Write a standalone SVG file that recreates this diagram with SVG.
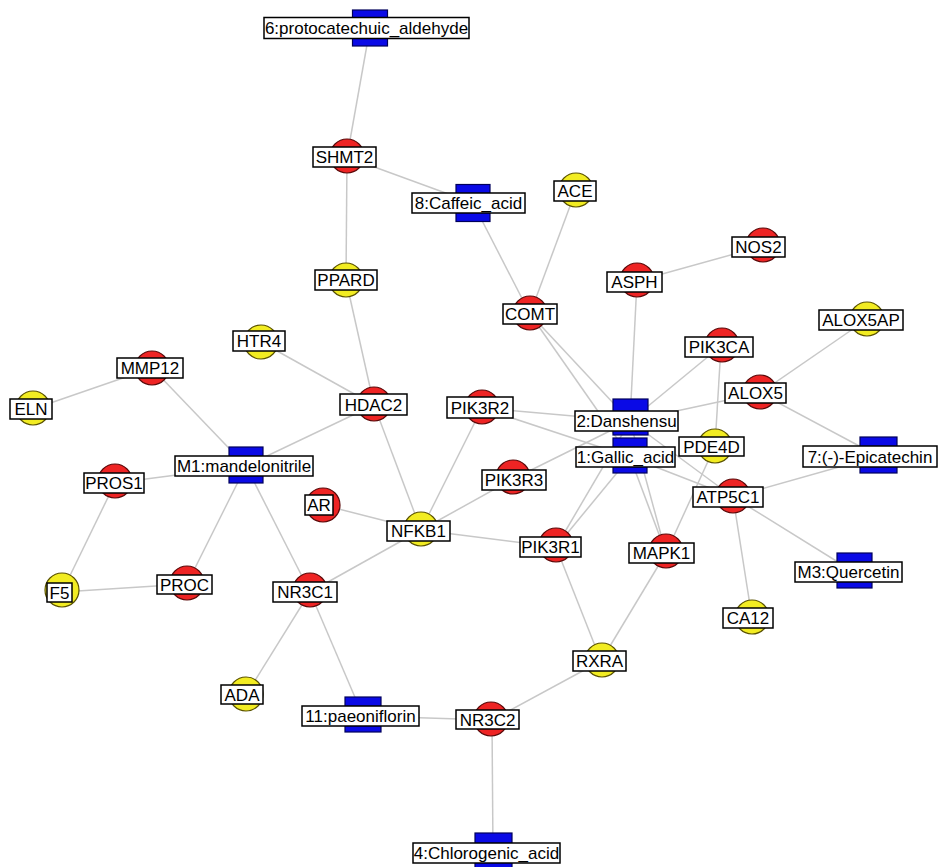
<svg xmlns="http://www.w3.org/2000/svg" width="945" height="867" viewBox="0 0 945 867">
  <style>
    .edge { stroke: #c8c8c8; stroke-width: 1.5; fill: none; }
    .red { fill: #ee2424; stroke: #5a0a0a; stroke-width: 1.2; }
    .yel { fill: #f2ec22; stroke: #5a5200; stroke-width: 1.2; }
    .cmp { fill: #0a0ae6; stroke: #00005a; stroke-width: 1.2; }
    .box { fill: #ffffff; stroke: #000000; stroke-width: 1.5; }
    .lbl { font-family: "Liberation Sans", Arial, sans-serif; font-size: 17px; fill: #000000; text-anchor: middle; }
  </style>
  <rect width="945" height="867" fill="#ffffff"/>

  <!-- connectors -->
  <g id="edges">
    <line class="edge" x1="370" y1="28" x2="347" y2="157"/>
    <line class="edge" x1="347" y1="157" x2="473" y2="203"/>
    <line class="edge" x1="347" y1="157" x2="346" y2="280"/>
    <line class="edge" x1="346" y1="280" x2="374" y2="405"/>
    <line class="edge" x1="473" y1="203" x2="530" y2="314"/>
    <line class="edge" x1="576" y1="190" x2="530" y2="314"/>
    <line class="edge" x1="530" y1="314" x2="630" y2="421"/>
    <line class="edge" x1="530" y1="314" x2="630" y2="457"/>
    <line class="edge" x1="637" y1="281" x2="763" y2="246"/>
    <line class="edge" x1="637" y1="281" x2="630" y2="421"/>
    <line class="edge" x1="721" y1="346" x2="630" y2="421"/>
    <line class="edge" x1="721" y1="346" x2="715" y2="446"/>
    <line class="edge" x1="760" y1="393" x2="866" y2="320"/>
    <line class="edge" x1="760" y1="393" x2="630" y2="421"/>
    <line class="edge" x1="760" y1="393" x2="878" y2="456"/>
    <line class="edge" x1="878" y1="456" x2="733" y2="497"/>
    <line class="edge" x1="733" y1="497" x2="630" y2="421"/>
    <line class="edge" x1="733" y1="497" x2="630" y2="457"/>
    <line class="edge" x1="733" y1="497" x2="854" y2="572"/>
    <line class="edge" x1="733" y1="497" x2="752" y2="618"/>
    <line class="edge" x1="715" y1="446" x2="666" y2="553"/>
    <line class="edge" x1="666" y1="553" x2="630" y2="421"/>
    <line class="edge" x1="666" y1="553" x2="630" y2="457"/>
    <line class="edge" x1="666" y1="553" x2="601" y2="661"/>
    <line class="edge" x1="556" y1="547" x2="630" y2="421"/>
    <line class="edge" x1="556" y1="547" x2="630" y2="457"/>
    <line class="edge" x1="556" y1="547" x2="601" y2="661"/>
    <line class="edge" x1="556" y1="547" x2="421" y2="530"/>
    <line class="edge" x1="482" y1="408" x2="630" y2="421"/>
    <line class="edge" x1="482" y1="408" x2="630" y2="457"/>
    <line class="edge" x1="482" y1="408" x2="421" y2="530"/>
    <line class="edge" x1="513" y1="479" x2="630" y2="421"/>
    <line class="edge" x1="513" y1="479" x2="421" y2="530"/>
    <line class="edge" x1="374" y1="405" x2="421" y2="530"/>
    <line class="edge" x1="374" y1="405" x2="261" y2="342"/>
    <line class="edge" x1="374" y1="405" x2="246" y2="466"/>
    <line class="edge" x1="421" y1="530" x2="323" y2="505"/>
    <line class="edge" x1="421" y1="530" x2="310" y2="592"/>
    <line class="edge" x1="246" y1="466" x2="152" y2="368"/>
    <line class="edge" x1="152" y1="368" x2="33" y2="409"/>
    <line class="edge" x1="246" y1="466" x2="115" y2="483"/>
    <line class="edge" x1="246" y1="466" x2="187" y2="584"/>
    <line class="edge" x1="246" y1="466" x2="310" y2="592"/>
    <line class="edge" x1="115" y1="483" x2="62" y2="592"/>
    <line class="edge" x1="62" y1="592" x2="187" y2="584"/>
    <line class="edge" x1="310" y1="592" x2="246" y2="695"/>
    <line class="edge" x1="310" y1="592" x2="363" y2="716"/>
    <line class="edge" x1="363" y1="716" x2="492" y2="720"/>
    <line class="edge" x1="492" y1="720" x2="601" y2="661"/>
    <line class="edge" x1="492" y1="720" x2="493" y2="853"/>
  </g>

  <!-- compounds -->
  <g id="n6">
    <rect class="cmp" x="352.5" y="10" width="35" height="36"/>
    <rect class="box" x="264" y="17.5" width="205" height="21"/>
    <text class="lbl" x="366.5" y="34">6:protocatechuic_aldehyde</text>
  </g>
  <g id="n8">
    <rect class="cmp" x="456" y="184.5" width="34" height="37"/>
    <rect class="box" x="412" y="193" width="113" height="20"/>
    <text class="lbl" x="468.5" y="209">8:Caffeic_acid</text>
  </g>
  <g id="n2">
    <rect class="cmp" x="613" y="399" width="35" height="36"/>
    <rect class="box" x="575" y="411" width="103" height="20"/>
    <text class="lbl" x="626.5" y="427">2:Danshensu</text>
  </g>
  <g id="n1">
    <rect class="cmp" x="613" y="438" width="34" height="35"/>
    <rect class="box" x="576" y="447" width="99" height="20"/>
    <text class="lbl" x="625.5" y="463">1:Gallic_acid</text>
  </g>
  <g id="n7">
    <rect class="cmp" x="860" y="437" width="37" height="36"/>
    <rect class="box" x="803" y="446" width="134" height="21"/>
    <text class="lbl" x="870" y="462.5">7:(-)-Epicatechin</text>
  </g>
  <g id="m3">
    <rect class="cmp" x="837" y="553" width="35" height="35"/>
    <rect class="box" x="795" y="562" width="107" height="20"/>
    <text class="lbl" x="848.5" y="578">M3:Quercetin</text>
  </g>
  <g id="m1">
    <rect class="cmp" x="229" y="447" width="34" height="36"/>
    <rect class="box" x="175" y="456" width="138" height="20"/>
    <text class="lbl" x="244" y="472">M1:mandelonitrile</text>
  </g>
  <g id="n11">
    <rect class="cmp" x="345" y="697" width="36" height="35"/>
    <rect class="box" x="302" y="706" width="117" height="20"/>
    <text class="lbl" x="360.5" y="722">11:paeoniflorin</text>
  </g>
  <g id="n4">
    <rect class="cmp" x="475" y="833" width="37" height="36"/>
    <rect class="box" x="413" y="843" width="147" height="20"/>
    <text class="lbl" x="486.5" y="859">4:Chlorogenic_acid</text>
  </g>

  <!-- targets -->
  <g id="SHMT2">
    <circle class="red" cx="347" cy="156" r="17"/>
    <rect class="box" x="313" y="147" width="63" height="20"/>
    <text class="lbl" x="344.5" y="163">SHMT2</text>
  </g>
  <g id="ACE">
    <circle class="yel" cx="576" cy="190" r="17"/>
    <rect class="box" x="554" y="181" width="42" height="20"/>
    <text class="lbl" x="575" y="197">ACE</text>
  </g>
  <g id="NOS2">
    <circle class="red" cx="763" cy="245" r="17"/>
    <rect class="box" x="732" y="237" width="53" height="20"/>
    <text class="lbl" x="758.5" y="253">NOS2</text>
  </g>
  <g id="ASPH">
    <circle class="red" cx="637" cy="280" r="17"/>
    <rect class="box" x="607" y="272" width="55" height="20"/>
    <text class="lbl" x="634.5" y="288">ASPH</text>
  </g>
  <g id="PPARD">
    <circle class="yel" cx="346" cy="280" r="17"/>
    <rect class="box" x="315" y="270" width="62" height="20"/>
    <text class="lbl" x="346" y="286">PPARD</text>
  </g>
  <g id="COMT">
    <circle class="red" cx="530" cy="313" r="17"/>
    <rect class="box" x="503" y="304" width="54" height="20"/>
    <text class="lbl" x="530" y="320">COMT</text>
  </g>
  <g id="MMP12">
    <circle class="red" cx="152" cy="368" r="17"/>
    <rect class="box" x="117" y="358" width="66" height="20"/>
    <text class="lbl" x="150" y="374">MMP12</text>
  </g>
  <g id="ELN">
    <circle class="yel" cx="33" cy="408" r="17"/>
    <rect class="box" x="10" y="399" width="42" height="20"/>
    <text class="lbl" x="31" y="415">ELN</text>
  </g>
  <g id="HTR4">
    <circle class="yel" cx="261" cy="342" r="17"/>
    <rect class="box" x="233" y="331" width="52" height="20"/>
    <text class="lbl" x="259" y="347">HTR4</text>
  </g>
  <g id="HDAC2">
    <circle class="red" cx="374" cy="404" r="17"/>
    <rect class="box" x="340" y="394" width="67" height="21"/>
    <text class="lbl" x="373.5" y="410.5">HDAC2</text>
  </g>
  <g id="PIK3R2">
    <circle class="red" cx="482" cy="407" r="17"/>
    <rect class="box" x="447" y="397" width="66" height="21"/>
    <text class="lbl" x="480" y="413.5">PIK3R2</text>
  </g>
  <g id="PIK3CA">
    <circle class="red" cx="722" cy="345" r="17"/>
    <rect class="box" x="685" y="337" width="68" height="20"/>
    <text class="lbl" x="719" y="353">PIK3CA</text>
  </g>
  <g id="ALOX5AP">
    <circle class="yel" cx="867" cy="319" r="17"/>
    <rect class="box" x="819" y="310" width="84" height="20"/>
    <text class="lbl" x="861" y="326">ALOX5AP</text>
  </g>
  <g id="ALOX5">
    <circle class="red" cx="760" cy="392" r="17"/>
    <rect class="box" x="725" y="383" width="61" height="20"/>
    <text class="lbl" x="755.5" y="399">ALOX5</text>
  </g>
  <g id="PDE4D">
    <circle class="yel" cx="715" cy="446" r="17"/>
    <rect class="box" x="679" y="437" width="65" height="19"/>
    <text class="lbl" x="711.5" y="452.5">PDE4D</text>
  </g>
  <g id="ATP5C1">
    <circle class="red" cx="733" cy="496" r="17"/>
    <rect class="box" x="693" y="487" width="70" height="20"/>
    <text class="lbl" x="728" y="503">ATP5C1</text>
  </g>
  <g id="MAPK1">
    <circle class="red" cx="666" cy="551" r="17"/>
    <rect class="box" x="629" y="543" width="65" height="20"/>
    <text class="lbl" x="661.5" y="559">MAPK1</text>
  </g>
  <g id="CA12">
    <circle class="yel" cx="752" cy="617" r="17"/>
    <rect class="box" x="723" y="608" width="50" height="20"/>
    <text class="lbl" x="748" y="624">CA12</text>
  </g>
  <g id="RXRA">
    <circle class="yel" cx="602" cy="660" r="17"/>
    <rect class="box" x="573" y="651" width="53" height="20"/>
    <text class="lbl" x="599.5" y="667">RXRA</text>
  </g>
  <g id="PIK3R3">
    <circle class="red" cx="513" cy="477" r="17"/>
    <rect class="box" x="482" y="470" width="64" height="20"/>
    <text class="lbl" x="514" y="486">PIK3R3</text>
  </g>
  <g id="PIK3R1">
    <circle class="red" cx="556" cy="545" r="17"/>
    <rect class="box" x="520" y="537" width="61" height="20"/>
    <text class="lbl" x="550.5" y="553">PIK3R1</text>
  </g>
  <g id="NFKB1">
    <circle class="yel" cx="421" cy="529" r="17"/>
    <rect class="box" x="387" y="521" width="63" height="20"/>
    <text class="lbl" x="418.5" y="537">NFKB1</text>
  </g>
  <g id="AR">
    <circle class="red" cx="323" cy="505" r="17"/>
    <rect class="box" x="305" y="495" width="28" height="20"/>
    <text class="lbl" x="319" y="511">AR</text>
  </g>
  <g id="PROS1">
    <circle class="red" cx="115" cy="481" r="17"/>
    <rect class="box" x="84" y="473" width="60" height="20"/>
    <text class="lbl" x="114" y="489">PROS1</text>
  </g>
  <g id="F5">
    <circle class="yel" cx="62" cy="590" r="17"/>
    <rect class="box" x="47" y="583" width="25" height="19"/>
    <text class="lbl" x="59.5" y="598.5">F5</text>
  </g>
  <g id="PROC">
    <circle class="red" cx="187" cy="583" r="17"/>
    <rect class="box" x="157" y="575" width="55" height="19"/>
    <text class="lbl" x="184.5" y="590.5">PROC</text>
  </g>
  <g id="NR3C1">
    <circle class="red" cx="310" cy="590" r="17"/>
    <rect class="box" x="273" y="582" width="64" height="20"/>
    <text class="lbl" x="305" y="598">NR3C1</text>
  </g>
  <g id="ADA">
    <circle class="yel" cx="246" cy="694" r="17"/>
    <rect class="box" x="221" y="685" width="42" height="19"/>
    <text class="lbl" x="242" y="700.5">ADA</text>
  </g>
  <g id="NR3C2">
    <circle class="red" cx="491" cy="719" r="17"/>
    <rect class="box" x="456" y="710" width="63" height="19"/>
    <text class="lbl" x="487.5" y="726">NR3C2</text>
  </g>
</svg>
